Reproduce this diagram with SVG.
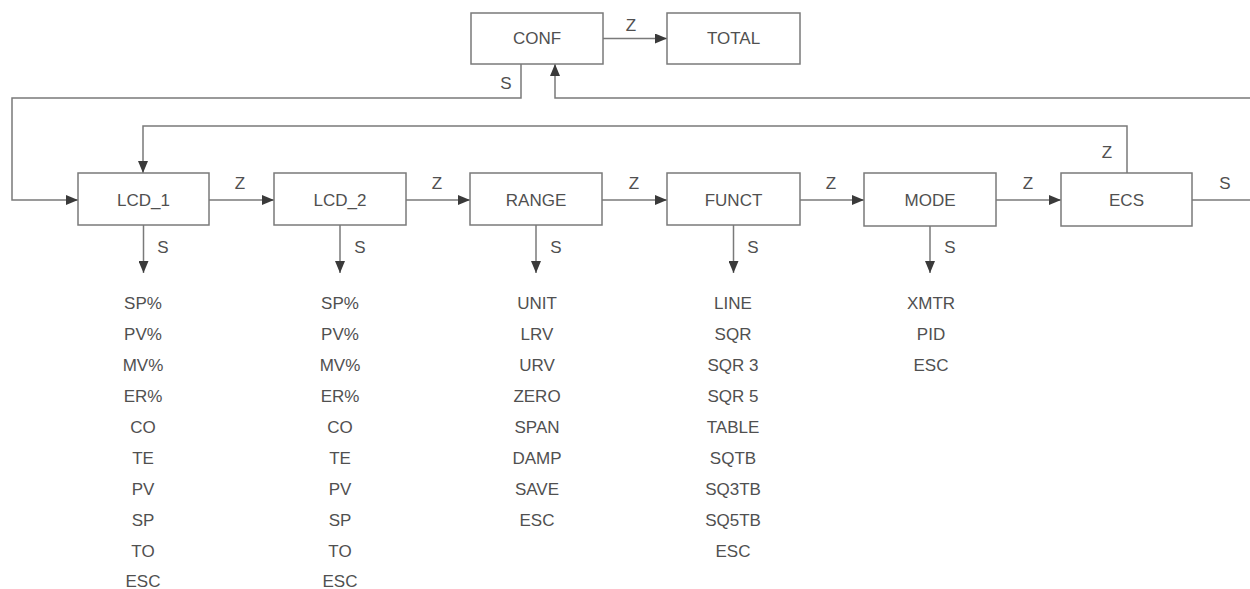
<svg xmlns="http://www.w3.org/2000/svg" width="1250" height="589" viewBox="0 0 1250 589">
<style>
.box{fill:#fff;stroke:#7a7a7a;stroke-width:1.5}
.lbl{font-family:"Liberation Sans",Arial,sans-serif;font-size:17px;fill:#505050;text-anchor:middle}
.ln{fill:none;stroke:#7a7a7a;stroke-width:1.5}
</style>
<defs>
<marker id="ah" viewBox="0 0 12 10" refX="12" refY="5" markerWidth="12" markerHeight="10" markerUnits="userSpaceOnUse" orient="auto">
<path d="M0,0 L12,5 L0,10 z" fill="#3a3a3a"/>
</marker>
</defs>
<rect width="1250" height="589" fill="#fff"/>
<g id="connectors">
<line class="ln" x1="603" y1="38.5" x2="667" y2="38.5" marker-end="url(#ah)"/>
<text class="lbl" x="631" y="31">Z</text>
<polyline class="ln" points="521,64 521,98 12,98 12,200 78,200" marker-end="url(#ah)"/>
<text class="lbl" x="506" y="89">S</text>
<polyline class="ln" points="1250,98 555,98 555,64" marker-end="url(#ah)"/>
<polyline class="ln" points="1127,173 1127,126 143,126 143,173" marker-end="url(#ah)"/>
<text class="lbl" x="1107" y="158">Z</text>
<line class="ln" x1="209" y1="200" x2="274" y2="200" marker-end="url(#ah)"/>
<text class="lbl" x="240" y="189">Z</text>
<line class="ln" x1="406" y1="200" x2="470" y2="200" marker-end="url(#ah)"/>
<text class="lbl" x="437" y="189">Z</text>
<line class="ln" x1="602" y1="200" x2="667" y2="200" marker-end="url(#ah)"/>
<text class="lbl" x="634" y="189">Z</text>
<line class="ln" x1="800" y1="200" x2="864" y2="200" marker-end="url(#ah)"/>
<text class="lbl" x="831" y="189">Z</text>
<line class="ln" x1="996" y1="200" x2="1061" y2="200" marker-end="url(#ah)"/>
<text class="lbl" x="1028" y="189">Z</text>
<line class="ln" x1="1192" y1="200" x2="1250" y2="200"/>
<text class="lbl" x="1225" y="189">S</text>
<line class="ln" x1="143.5" y1="225" x2="143.5" y2="273" marker-end="url(#ah)"/>
<text class="lbl" x="163" y="253">S</text>
<line class="ln" x1="340" y1="225" x2="340" y2="273" marker-end="url(#ah)"/>
<text class="lbl" x="360" y="253">S</text>
<line class="ln" x1="536" y1="225" x2="536" y2="273" marker-end="url(#ah)"/>
<text class="lbl" x="556" y="253">S</text>
<line class="ln" x1="733.5" y1="225" x2="733.5" y2="273" marker-end="url(#ah)"/>
<text class="lbl" x="753" y="253">S</text>
<line class="ln" x1="930" y1="226" x2="930" y2="273" marker-end="url(#ah)"/>
<text class="lbl" x="950" y="253">S</text>
</g>
<g id="CONF"><rect class="box" x="471" y="13" width="132" height="51"/><text class="lbl" x="537" y="44">CONF</text></g>
<g id="TOTAL"><rect class="box" x="667" y="13" width="133" height="51"/><text class="lbl" x="733.5" y="44">TOTAL</text></g>
<g id="LCD_1"><rect class="box" x="78" y="173" width="131" height="52"/><text class="lbl" x="143.5" y="206">LCD_1</text></g>
<g id="LCD_2"><rect class="box" x="274" y="173" width="132" height="52"/><text class="lbl" x="340" y="206">LCD_2</text></g>
<g id="RANGE"><rect class="box" x="470" y="173" width="132" height="52"/><text class="lbl" x="536" y="206">RANGE</text></g>
<g id="FUNCT"><rect class="box" x="667" y="173" width="133" height="52"/><text class="lbl" x="733.5" y="206">FUNCT</text></g>
<g id="MODE"><rect class="box" x="864" y="173" width="132" height="53"/><text class="lbl" x="930" y="206">MODE</text></g>
<g id="ECS"><rect class="box" x="1061" y="173" width="131" height="53"/><text class="lbl" x="1126.5" y="206">ECS</text></g>
<g id="list_LCD_1">
<text class="lbl" x="143" y="309">SP%</text>
<text class="lbl" x="143" y="340">PV%</text>
<text class="lbl" x="143" y="371">MV%</text>
<text class="lbl" x="143" y="402">ER%</text>
<text class="lbl" x="143" y="433">CO</text>
<text class="lbl" x="143" y="464">TE</text>
<text class="lbl" x="143" y="495">PV</text>
<text class="lbl" x="143" y="526">SP</text>
<text class="lbl" x="143" y="557">TO</text>
<text class="lbl" x="143" y="587">ESC</text>
</g>
<g id="list_LCD_2">
<text class="lbl" x="340" y="309">SP%</text>
<text class="lbl" x="340" y="340">PV%</text>
<text class="lbl" x="340" y="371">MV%</text>
<text class="lbl" x="340" y="402">ER%</text>
<text class="lbl" x="340" y="433">CO</text>
<text class="lbl" x="340" y="464">TE</text>
<text class="lbl" x="340" y="495">PV</text>
<text class="lbl" x="340" y="526">SP</text>
<text class="lbl" x="340" y="557">TO</text>
<text class="lbl" x="340" y="587">ESC</text>
</g>
<g id="list_RANGE">
<text class="lbl" x="537" y="309">UNIT</text>
<text class="lbl" x="537" y="340">LRV</text>
<text class="lbl" x="537" y="371">URV</text>
<text class="lbl" x="537" y="402">ZERO</text>
<text class="lbl" x="537" y="433">SPAN</text>
<text class="lbl" x="537" y="464">DAMP</text>
<text class="lbl" x="537" y="495">SAVE</text>
<text class="lbl" x="537" y="526">ESC</text>
</g>
<g id="list_FUNCT">
<text class="lbl" x="733" y="309">LINE</text>
<text class="lbl" x="733" y="340">SQR</text>
<text class="lbl" x="733" y="371">SQR 3</text>
<text class="lbl" x="733" y="402">SQR 5</text>
<text class="lbl" x="733" y="433">TABLE</text>
<text class="lbl" x="733" y="464">SQTB</text>
<text class="lbl" x="733" y="495">SQ3TB</text>
<text class="lbl" x="733" y="526">SQ5TB</text>
<text class="lbl" x="733" y="557">ESC</text>
</g>
<g id="list_MODE">
<text class="lbl" x="931" y="309">XMTR</text>
<text class="lbl" x="931" y="340">PID</text>
<text class="lbl" x="931" y="371">ESC</text>
</g>
</svg>
